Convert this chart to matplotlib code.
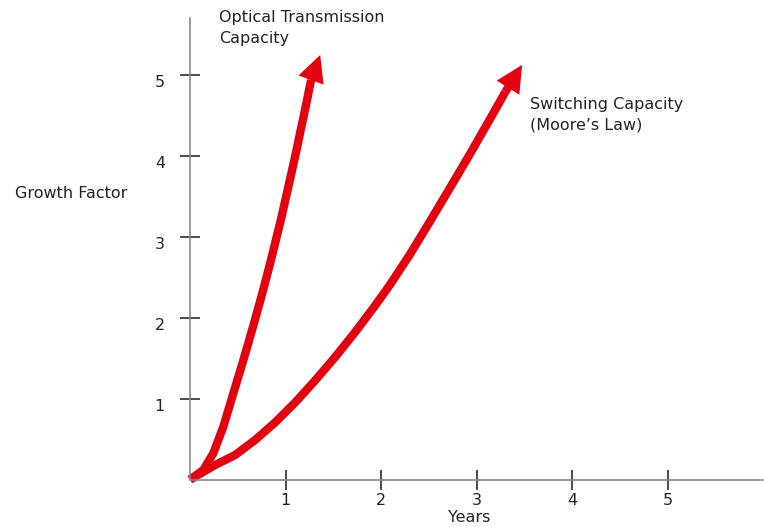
import matplotlib
matplotlib.use('Agg')
from matplotlib import pyplot as plt
from matplotlib.transforms import ScaledTranslation

# curves (years, growth factor); last point = arrow tip
optical_x = [0, 0.139, 0.244, 0.349, 0.454, 0.559, 0.660, 0.757, 0.848, 0.959, 1.093, 1.211, 1.268, 1.363]
optical_y = [0, 0.119, 0.325, 0.654, 1.067, 1.478, 1.890, 2.303, 2.714, 3.250, 3.951, 4.609, 4.939, 5.248]
switching_x = [0, 0.262, 0.472, 0.681, 0.891, 1.101, 1.310, 1.520, 1.730, 1.939, 2.096,
               2.306, 2.516, 2.725, 2.935, 3.145, 3.302, 3.477]
switching_y = [0, 0.180, 0.304, 0.489, 0.706, 0.953, 1.225, 1.515, 1.824, 2.152, 2.412,
               2.789, 3.197, 3.611, 4.031, 4.464, 4.791, 5.125]

xticks = [1, 2, 3, 4, 5]
yticks = [1, 2, 3, 4, 5]

red = '#e3000f'
txt = '#222222'
fs = 11.5

fig = plt.figure(figsize=(7.64, 5.27), dpi=100)
ax = fig.add_axes([190/764, 47.4/527, 573/764, 462/527])
ax.set_xlim(0, 6.0)
ax.set_ylim(0, 5.71)

for xs, ys in [(optical_x, optical_y), (switching_x, switching_y)]:
    ax.plot(xs[:-1], ys[:-1], color=red, lw=6.0, solid_capstyle='butt',
            solid_joinstyle='round', clip_on=False)
    # shaft up into the head, then the filled head on top
    ax.annotate('', xy=(xs[-1], ys[-1]), xytext=(xs[-2], ys[-2]),
                annotation_clip=False,
                arrowprops=dict(arrowstyle='-', color=red, lw=6.0,
                                shrinkA=0, shrinkB=16, capstyle='butt'))
    ax.annotate('', xy=(xs[-1], ys[-1]), xytext=(xs[-2], ys[-2]),
                annotation_clip=False,
                arrowprops=dict(arrowstyle='-|>,head_length=0.96,head_width=0.48',
                                mutation_scale=20, facecolor=red, edgecolor=red,
                                lw=0, shrinkA=0, shrinkB=0))

ax.spines['top'].set_visible(False)
ax.spines['right'].set_visible(False)
for s in ['left', 'bottom']:
    ax.spines[s].set_color('#8a8a8a')
    ax.spines[s].set_linewidth(1.2)

ax.set_xticks(xticks)
ax.set_yticks(yticks)
ax.set_xticklabels([str(t) for t in xticks])
ax.set_yticklabels([str(t) for t in yticks])
ax.tick_params(axis='both', direction='inout', length=14, width=1.1,
               color='#1a1a1a', labelsize=fs, labelcolor=txt)
ax.tick_params(axis='y', pad=11)
ax.tick_params(axis='x', pad=3)
for lab in ax.get_yticklabels():
    lab.set_transform(lab.get_transform() + ScaledTranslation(0, -6/100, fig.dpi_scale_trans))

ax.text(0.304, 5.80, 'Optical Transmission\nCapacity', fontsize=fs, color=txt,
        ha='left', va='top', linespacing=1.45, clip_on=False)
ax.text(3.564, 4.73, 'Switching Capacity\n(Moore\u2019s Law)', fontsize=fs, color=txt,
        ha='left', va='top', linespacing=1.45, clip_on=False)

fig.text(15/764, 1 - 194/527, 'Growth Factor', fontsize=fs, color=txt,
         ha='left', va='center')
fig.text(469/764, 1 - 510/527, 'Years', fontsize=fs, color=txt,
         ha='center', va='top')

fig.savefig('out.png', dpi=100, facecolor='white')
